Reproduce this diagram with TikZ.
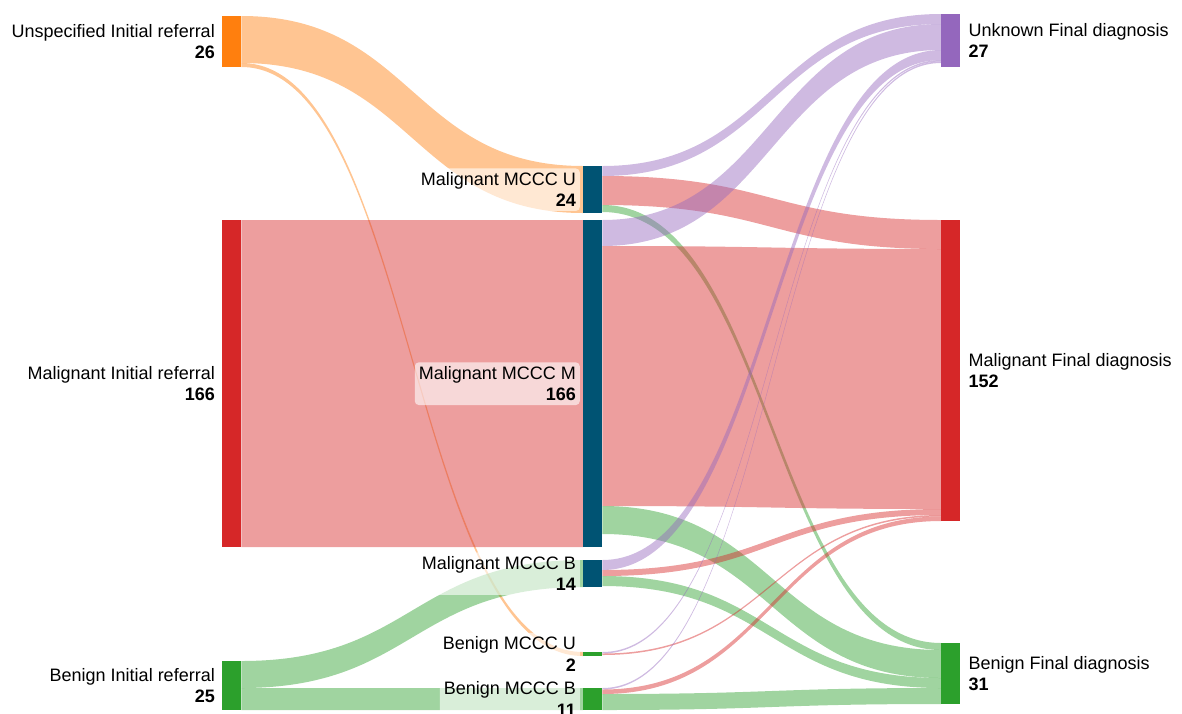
\documentclass[tikz,border=0pt]{standalone}
\usepackage{fontspec}
\setmainfont{Liberation Sans}
\usepackage{tikz}
\usetikzlibrary{positioning, calc}
\definecolor{myorange}{RGB}{255,127,14}
\definecolor{myred}{RGB}{214,39,40}
\definecolor{mygreen}{RGB}{44,160,44}
\definecolor{mypurple}{RGB}{148,103,189}
\definecolor{mynavy}{RGB}{0,83,115}
\pgfdeclarelayer{back}
\pgfsetlayers{back,main}
\tikzset{
  snode/.style={rectangle, anchor=north west, inner sep=0pt,
    minimum width=19pt, draw=none},
  lbl/.style={font=\fontsize{18}{21.5}\selectfont, align=right, inner sep=4pt},
  rlbl/.style={font=\fontsize{18}{21.5}\selectfont, align=left, inner sep=4pt},
  mlbl/.style={lbl, fill=white, fill opacity=0.6, text opacity=1,
    rounded corners=4pt}
}
% flow band: source anchor, top, bottom, target anchor, top, bottom, colour
\newcommand{\band}[7]{%
  \path[fill=#7, fill opacity=0.45]
    let \p1=($(#1)+(0,#2)$), \p2=($(#1)+(0,#3)$),
        \p3=($(#4)+(0,#5)$), \p4=($(#4)+(0,#6)$),
        \p5=($(\p1)!0.5!(\p3)$)
    in (\p1) .. controls (\x5,\y1) and (\x5,\y3) .. (\p3)
       -- (\p4) .. controls (\x5,\y4) and (\x5,\y2) .. (\p2) -- cycle;}

\begin{document}
\begin{tikzpicture}[x=1pt, y=-1pt]
  \useasboundingbox (0,0) rectangle (1182,713);

  % Initial referral
  \node[snode, fill=myorange, minimum height=51pt]  (unsp)  at (222,16)  {};
  \node[snode, fill=myred,    minimum height=327pt] (malIR) at (222,220) {};
  \node[snode, fill=mygreen,  minimum height=49pt]  (benIR) at (222,661) {};

  % MCCC
  \node[snode, fill=mynavy,  minimum height=47pt]  (mccU) at (583,166) {};
  \node[snode, fill=mynavy,  minimum height=327pt] (mccM) at (583,220) {};
  \node[snode, fill=mynavy,  minimum height=27pt]  (mccB) at (583,560) {};
  \node[snode, fill=mygreen, minimum height=4pt]   (benU) at (583,652) {};
  \node[snode, fill=mygreen, minimum height=22pt]  (benB) at (583,688) {};

  % Final diagnosis
  \node[snode, fill=mypurple, minimum height=53pt]  (unk)  at (941,14)  {};
  \node[snode, fill=myred,    minimum height=301pt] (malF) at (941,220) {};
  \node[snode, fill=mygreen,  minimum height=61pt]  (benF) at (941,643) {};

  % Flows
  \begin{pgfonlayer}{back}
  \band{unsp.north east}{0}{47}{mccU.north west}{0}{47}{myorange}
  \band{unsp.north east}{47}{51}{benU.north west}{0}{4}{myorange}
  \band{malIR.north east}{0}{327}{mccM.north west}{0}{327}{myred}
  \band{benIR.north east}{0}{27}{mccB.north west}{0}{27}{mygreen}
  \band{benIR.north east}{27}{49}{benB.north west}{0}{22}{mygreen}

  \band{mccU.north east}{0}{10}{unk.north west}{0}{10}{mypurple}
  \band{mccU.north east}{10}{39}{malF.north west}{0}{29}{myred}
  \band{mccU.north east}{39}{46}{benF.north west}{0}{7}{mygreen}
  \band{mccM.north east}{0}{26}{unk.north west}{10}{36}{mypurple}
  \band{mccM.north east}{26}{286}{malF.north west}{29}{289}{myred}
  \band{mccM.north east}{286}{314}{benF.north west}{7}{35}{mygreen}
  \band{mccB.north east}{0}{10}{unk.north west}{36}{46}{mypurple}
  \band{mccB.north east}{10}{16}{malF.north west}{289}{295}{myred}
  \band{mccB.north east}{16}{26}{benF.north west}{35}{45}{mygreen}
  \band{benU.north east}{0}{1.5}{unk.north west}{46}{47.5}{mypurple}
  \band{benU.north east}{1.5}{3}{malF.north west}{295}{296.5}{myred}
  \band{benB.north east}{0}{1.5}{unk.north west}{47.5}{49}{mypurple}
  \band{benB.north east}{1.5}{6}{malF.north west}{296.5}{301}{myred}
  \band{benB.north east}{6}{22}{benF.north west}{45}{61}{mygreen}
  \end{pgfonlayer}

  % Labels
  \node[lbl, left=3pt of unsp]  (unspL)  {Unspecified Initial referral\\\textbf{26}};
  \node[lbl, left=3pt of malIR] (malIRL) {Malignant Initial referral\\\textbf{166}};
  \node[lbl, left=3pt of benIR] (benIRL) {Benign Initial referral\\\textbf{25}};

  \node[mlbl, left=3pt of mccU] (mccUL) {Malignant MCCC U\\\textbf{24}};
  \node[mlbl, left=3pt of mccM] (mccML) {Malignant MCCC M\\\textbf{166}};
  \node[mlbl, left=3pt of mccB] (mccBL) {Malignant MCCC B\\\textbf{14}};
  \node[mlbl, left=3pt of benU] (benUL) {Benign MCCC U\\\textbf{2}};
  \node[mlbl, left=3pt of benB] (benBL) {Benign MCCC B\\\textbf{11}};

  \node[rlbl, right=4pt of unk]  (unkL)  {Unknown Final diagnosis\\\textbf{27}};
  \node[rlbl, right=4pt of malF] (malFL) {Malignant Final diagnosis\\\textbf{152}};
  \node[rlbl, right=4pt of benF] (benFL) {Benign Final diagnosis\\\textbf{31}};
\end{tikzpicture}
\end{document}
